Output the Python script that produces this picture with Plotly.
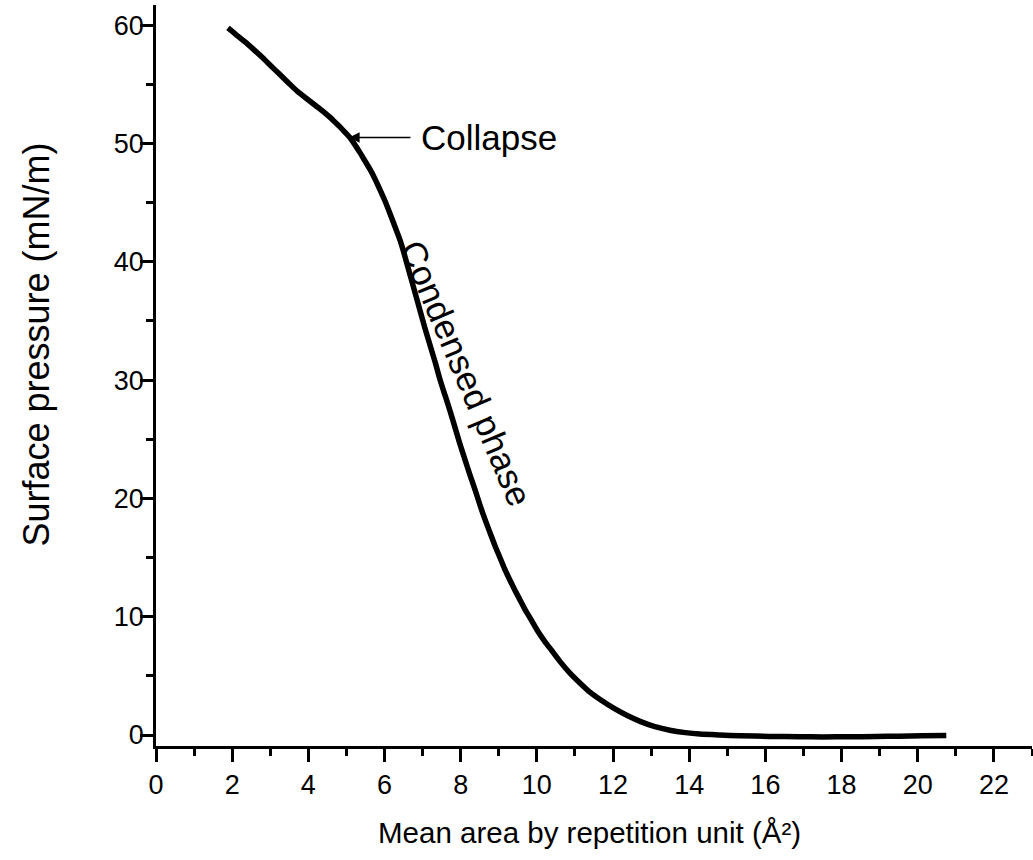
import plotly.graph_objects as go

# Surface pressure isotherm: mean area per repetition unit (Å²) vs surface pressure (mN/m)
area = [1.89, 2.1, 2.34, 2.56, 2.78, 3.02, 3.26, 3.5, 3.73, 3.95, 4.17, 4.37, 4.57, 4.7,
        4.83, 4.96, 5.09, 5.22, 5.36, 5.49, 5.62, 5.75, 5.88, 6.01, 6.14, 6.27, 6.41, 6.54,
        6.67, 6.8, 6.93, 7.06, 7.19, 7.33, 7.46, 7.59, 7.72, 7.85, 7.98, 8.11, 8.24, 8.38,
        8.51, 8.64, 8.77, 8.9, 9.03, 9.16, 9.29, 9.43, 9.56, 9.69, 9.82, 10.0, 10.21, 10.4,
        10.61, 10.85, 11.13, 11.4, 11.66, 12.05, 12.4, 12.71, 13.1, 13.49, 13.9, 14.28,
        14.8, 15.33, 16.1, 16.9, 17.5, 18.2, 18.9, 19.5, 20.1, 20.75]
pressure = [59.76, 59.2, 58.58, 57.95, 57.3, 56.55, 55.8, 55.05, 54.35, 53.8, 53.25, 52.75, 52.2, 51.8,
            51.4, 50.95, 50.5, 49.9, 49.2, 48.5, 47.8, 47.0, 46.1, 45.15, 44.1, 43.0, 41.8, 40.4,
            38.9, 37.4, 35.9, 34.4, 33.0, 31.5, 30.0, 28.7, 27.4, 26.0, 24.6, 23.3, 22.0, 20.7,
            19.4, 18.2, 17.1, 16.0, 15.0, 14.0, 13.1, 12.2, 11.4, 10.6, 9.9, 8.9, 7.9, 7.1,
            6.2, 5.3, 4.4, 3.6, 3.0, 2.2, 1.6, 1.15, 0.7, 0.4, 0.2, 0.08,
            0.0, -0.06, -0.12, -0.15, -0.16, -0.15, -0.13, -0.1, -0.07, -0.05]

x_ticks = [0, 2, 4, 6, 8, 10, 12, 14, 16, 18, 20, 22]
y_ticks = [0, 10, 20, 30, 40, 50, 60]

FONT = "Liberation Sans, Arial, sans-serif"

fig = go.Figure()
fig.add_trace(go.Scatter(
    x=area, y=pressure, mode="lines",
    line=dict(color="black", width=5.5, shape="spline", smoothing=0.6),
    showlegend=False, hoverinfo="skip",
))

axis_common = dict(
    showline=True, linecolor="black", linewidth=2.5,
    ticks="outside", ticklen=13, tickwidth=2.5, tickcolor="black",
    showgrid=False, zeroline=False,
    tickfont=dict(family=FONT, size=27, color="black"),
)

fig.update_xaxes(
    range=[0, 23], tickvals=x_ticks,
    minor=dict(ticks="outside", ticklen=7, tickwidth=2.5, tickcolor="black", dtick=1, tick0=0),
    **axis_common,
)
fig.update_yaxes(
    range=[-0.93, 61.7], tickvals=y_ticks, ticklabelstandoff=-9,
    minor=dict(ticks="outside", ticklen=7, tickwidth=2.5, tickcolor="black", dtick=5, tick0=0),
    **axis_common,
)

# axis titles
fig.add_annotation(
    x=11.37, xref="x", xanchor="center",
    y=0, yref="paper", yshift=-86, yanchor="middle",
    text="Mean area by repetition unit (Å²)", showarrow=False,
    font=dict(family=FONT, size=29.5, color="black"),
)
fig.add_annotation(
    x=0, xref="paper", xshift=-119, xanchor="center",
    y=33.0, yref="y", yanchor="middle",
    text="Surface pressure (mN/m)", showarrow=False, textangle=-90,
    font=dict(family=FONT, size=36, color="black"),
)

# arrow marking the collapse point
fig.add_annotation(
    x=5.07, y=50.5, ax=6.72, ay=50.5, axref="x", ayref="y", xref="x", yref="y",
    text="", showarrow=True, arrowhead=2, arrowsize=1.4, arrowwidth=1.5, arrowcolor="black",
)
fig.add_annotation(
    x=6.9, y=50.5, xref="x", yref="y", text="Collapse", showarrow=False,
    xanchor="left", yanchor="middle",
    font=dict(family=FONT, size=35, color="black"),
)
fig.add_annotation(
    x=8.13, y=30.6, xref="x", yref="y", text="Condensed phase", showarrow=False,
    textangle=67, font=dict(family=FONT, size=35, color="black"),
)

fig.update_layout(
    width=1033, height=860,
    margin=dict(l=156, r=1, t=5, b=114),
    paper_bgcolor="white", plot_bgcolor="white",
)

fig.write_html("out.html")
